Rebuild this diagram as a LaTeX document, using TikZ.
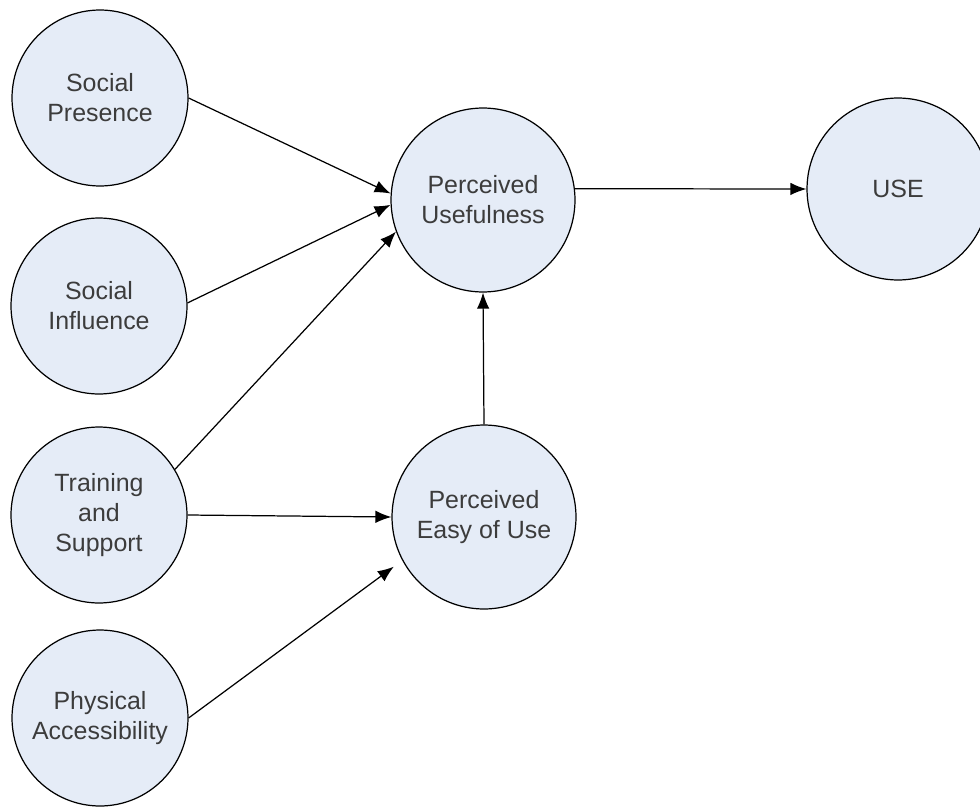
\documentclass[tikz,border=0pt]{standalone}
\usepackage{fontspec}
\setmainfont{Liberation Sans}
\usetikzlibrary{positioning, arrows.meta, calc}
\definecolor{constructfill}{HTML}{E5ECF7}
\definecolor{labelgrey}{HTML}{3C3C3C}
\begin{document}
\begin{tikzpicture}[x=0.02cm,y=-0.02cm,
            construct/.style={circle,draw=black,line width=0.7pt,fill=constructfill,
                minimum size=3.52cm,inner sep=0pt,align=center,text=labelgrey,
                font=\fontsize{14.2}{17}\selectfont},
            link/.style={line width=0.7pt,-{Latex[length=0.32cm,width=0.25cm]}}]
            \clip (0,0) rectangle (980,808);
            \node[construct] (SP) at (100,98) {Social\\Presence};
            \node[construct] (SI) at (99,306) {Social\\Influence};
            \node[construct] (TS) at (99,515) {Training\\and\\Support};
            \node[construct] (PA) at (100,718) {Physical\\Accessibility};
            \node[construct,minimum size=3.68cm] (PU) at (483,200) {Perceived\\Usefulness};
            \node[construct,minimum size=3.68cm] (PEU) at (484,517) {Perceived\\Easy of Use};
            \node[construct,minimum size=3.64cm] (USE) at (898,189) {USE};
            \draw[link] (SP.east) -- (PU.176);
            \draw[link] (SI.2) -- (PU.183);
            \draw[link] (TS.31) -- (PU.200);
            \draw[link] (TS.east) -- (PEU.west);
            \draw[link,shorten >=6pt] (PA.east) -- (PEU.208);
            \draw[link] (PEU.north) -- (PU.south);
            \draw[link] (PU.7) -- (USE.west);
        \end{tikzpicture}
\end{document}
